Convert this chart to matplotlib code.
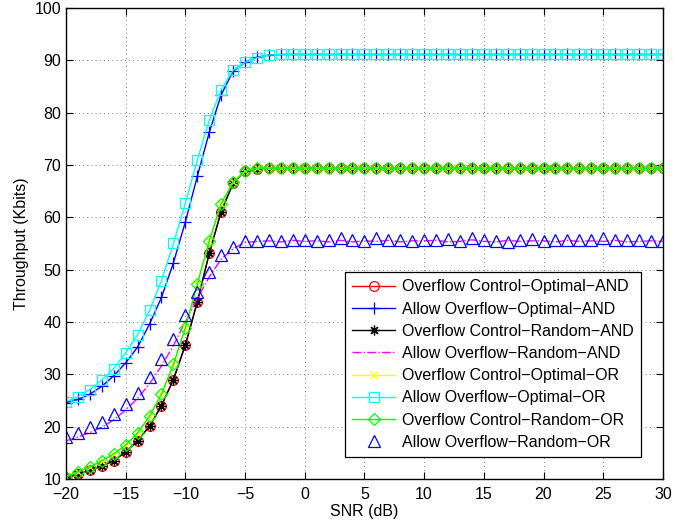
import numpy as np
import matplotlib
matplotlib.use("Agg")
import matplotlib.pyplot as plt

plt.rcParams["font.family"] = ["Liberation Sans", "DejaVu Sans"]

# ── data: throughput (Kbits) vs SNR (dB), one point per dB ───────────────────
snr = list(range(-20, 31))

oc_opt_and = [10.25, 10.95, 11.7, 12.5, 13.5, 15.2, 17.3, 20.1, 24.0, 29.0,
              35.6, 43.8, 53.1, 61.1, 66.5, 68.8, 69.3,
              69.4, 69.4, 69.4, 69.4, 69.4, 69.4, 69.4, 69.4, 69.4, 69.4,
              69.4, 69.4, 69.4, 69.4, 69.4, 69.4, 69.4, 69.4, 69.4, 69.4,
              69.4, 69.4, 69.4, 69.4, 69.4, 69.4, 69.4, 69.4, 69.4, 69.4,
              69.4, 69.4, 69.4, 69.4]

ao_opt_and = [24.6, 25.2, 26.2, 27.7, 29.7, 32.2, 35.2, 39.6, 44.7, 51.3,
              59.1, 67.8, 76.2, 83.4, 87.9, 89.6, 90.6, 91.0,
              91.1, 91.1, 91.1, 91.1, 91.1, 91.1, 91.1, 91.1, 91.1, 91.1,
              91.1, 91.1, 91.1, 91.1, 91.1, 91.1, 91.1, 91.1, 91.1, 91.1,
              91.1, 91.1, 91.1, 91.1, 91.1, 91.1, 91.1, 91.1, 91.1, 91.1,
              91.1, 91.1, 91.1]

oc_rand_and = oc_opt_and

ao_rand_and = [17.3, 18.0, 18.9, 19.9, 21.3, 23.2, 25.4, 28.2, 31.6, 35.5,
               40.0, 44.5, 48.6, 52.0, 54.0, 55.2,
               55.4, 55.5, 55.3, 55.6, 55.4, 55.5, 55.3, 55.6, 55.3, 55.5,
               55.4, 55.6, 55.3, 55.5, 55.5, 55.6, 55.3, 55.4, 55.7, 55.4,
               55.3, 55.6, 55.4, 55.5, 55.5, 55.3, 55.6, 55.4, 55.5, 55.4,
               55.6, 55.3, 55.4, 55.5, 55.4]

oc_rand_or = [10.4, 11.4, 12.3, 13.5, 14.8, 16.5, 18.8, 22.0, 26.2, 31.9,
              38.9, 47.2, 55.5, 62.6, 66.7, 68.8, 69.4,
              69.4, 69.4, 69.4, 69.4, 69.4, 69.4, 69.4, 69.4, 69.4, 69.4,
              69.4, 69.4, 69.4, 69.4, 69.4, 69.4, 69.4, 69.4, 69.4, 69.4,
              69.4, 69.4, 69.4, 69.4, 69.4, 69.4, 69.4, 69.4, 69.4, 69.4,
              69.4, 69.4, 69.4, 69.4]

oc_opt_or = oc_rand_or

ao_opt_or = [24.8, 25.7, 27.1, 28.9, 31.1, 34.1, 37.6, 42.2, 47.9, 55.0,
             62.7, 70.9, 78.5, 84.4, 88.1, 89.6, 90.5, 91.0,
             91.1, 91.1, 91.1, 91.1, 91.1, 91.1, 91.1, 91.1, 91.1, 91.1,
             91.1, 91.1, 91.1, 91.1, 91.1, 91.1, 91.1, 91.1, 91.1, 91.1,
             91.1, 91.1, 91.1, 91.1, 91.1, 91.1, 91.1, 91.1, 91.1, 91.1,
             91.1, 91.1, 91.1]

ao_rand_or = [18.1, 18.8, 19.9, 20.9, 22.4, 24.3, 26.5, 29.4, 33.0, 36.8,
              41.3, 45.7, 49.6, 52.8, 54.4, 55.5,
              55.5, 55.6, 55.5, 55.6, 55.7, 55.4,
              55.7, 56.0, 55.7, 55.4, 56.1, 55.7, 55.7, 55.4, 55.7, 55.7,
              55.85, 55.4, 56.1, 55.6, 55.4, 55.2, 55.6, 55.8, 55.4, 55.7,
              55.6, 55.6, 55.7, 56.0, 55.6, 55.7, 55.6, 55.4, 55.4]

# asterisk marker: eight thin arms like a "+" over an "x"
STAR = (8, 2, 0)

# (label, values, color, linestyle, marker)
SERIES = [
    ("Overflow Control\u2212Optimal\u2212AND", oc_opt_and,  "#ff0000", "-",  "o"),
    ("Allow Overflow\u2212Optimal\u2212AND",   ao_opt_and,  "#0000ff", "-",  "+"),
    ("Overflow Control\u2212Random\u2212AND",  oc_rand_and, "#000000", "-",  STAR),
    ("Allow Overflow\u2212Random\u2212AND",    ao_rand_and, "#ff00ff", "-.", None),
    ("Overflow Control\u2212Optimal\u2212OR",  oc_opt_or,   "#ffff00", "-",  "x"),
    ("Allow Overflow\u2212Optimal\u2212OR",    ao_opt_or,   "#00ffff", "-",  "s"),
    ("Overflow Control\u2212Random\u2212OR",   oc_rand_or,  "#00ff00", "-",  "D"),
    ("Allow Overflow\u2212Random\u2212OR",     ao_rand_or,  "#0000ff", "none", "^"),
]

MSIZE = {"o": 7, "+": 8, STAR: 7, "x": 6, "s": 7, "D": 6, "^": 9, None: 0}

fig = plt.figure(figsize=(6.73, 5.27), dpi=100)
ax = fig.add_axes([0.098, 0.091, 0.887, 0.894])

for label, vals, color, ls, marker in SERIES:
    ax.plot(snr, vals, color=color, linestyle=ls, linewidth=1.0,
            marker=marker, markersize=MSIZE[marker],
            markerfacecolor="none", markeredgecolor=color,
            markeredgewidth=0.9, label=label)

# ── axes formatting ──────────────────────────────────────────────────────────
ax.set_xlim(-20, 30)
ax.set_ylim(10, 100)
ax.set_xticks(range(-20, 31, 5))
ax.set_yticks(range(10, 101, 10))
ax.tick_params(direction="in", top=True, right=True, labelsize=11.5,
               length=5, width=0.8)
ax.tick_params(axis="x", pad=6)
for sp in ax.spines.values():
    sp.set_linewidth(1.0)
ax.grid(True, color="#555555", linestyle=(0, (1, 4)), linewidth=0.6)

ax.set_xlabel("SNR (dB)", fontsize=11.5, labelpad=1)
ax.set_ylabel("Throughput (Kbits)", fontsize=11.5, labelpad=4)

leg = ax.legend(loc="lower right", bbox_to_anchor=(0.964, 0.047),
                borderaxespad=0, fontsize=11.5, fancybox=False,
                framealpha=1, edgecolor="black", handlelength=2.7,
                labelspacing=0.45, borderpad=0.45, handletextpad=0.45)
leg.get_frame().set_linewidth(0.9)

fig.savefig("out.png", dpi=100)
